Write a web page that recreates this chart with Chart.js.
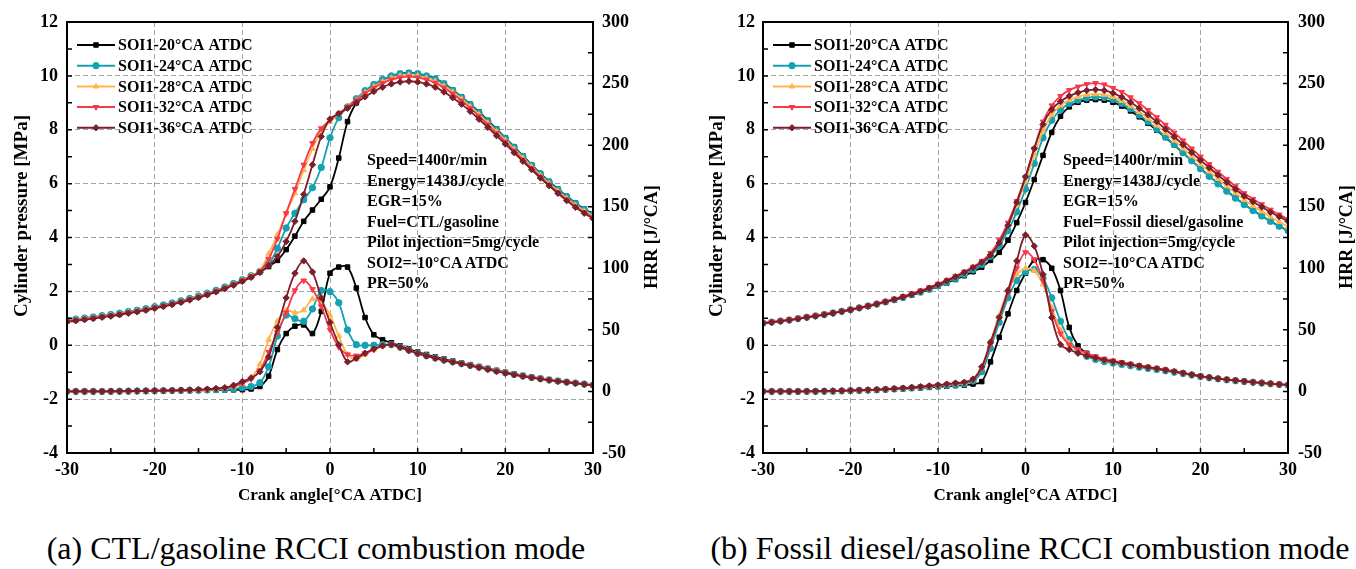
<!DOCTYPE html>
<html>
<head>
<meta charset="utf-8">
<script src="https://cdn.jsdelivr.net/npm/chart.js@4.4.1/dist/chart.umd.min.js"></script>
<style>
  body { margin: 0; background: #fff; width: 1356px; height: 569px; overflow: hidden; position: relative;
         font-family: "Liberation Serif", "Times New Roman", serif; }
  .panel { position: absolute; top: 0; width: 680px; height: 520px; }
  .note { position: absolute; top: 150px; font-weight: bold; font-size: 16px; line-height: 20.5px; white-space: nowrap; color: #000; }
  .caption { position: absolute; top: 530px; font-size: 32px; line-height: 36px; white-space: nowrap; transform: translateX(-50%); color: #000; }
</style>
</head>
<body>
<div class="panel" style="left:0"><canvas id="chartA" width="680" height="520"></canvas></div>
<div class="panel" style="left:690px"><canvas id="chartB" width="680" height="520"></canvas></div>

<div class="note" style="left:367px">Speed=1400r/min<br>Energy=1438J/cycle<br>EGR=15%<br>Fuel=CTL/gasoline<br>Pilot injection=5mg/cycle<br>SOI2=-10°CA ATDC<br>PR=50%</div>
<div class="note" style="left:1063px">Speed=1400r/min<br>Energy=1438J/cycle<br>EGR=15%<br>Fuel=Fossil diesel/gasoline<br>Pilot injection=5mg/cycle<br>SOI2=-10°CA ATDC<br>PR=50%</div>

<div class="caption" style="left:316px">(a) CTL/gasoline RCCI combustion mode</div>
<div class="caption" style="left:1030px">(b) Fossil diesel/gasoline RCCI combustion mode</div>

<script>
// crank angle, °CA ATDC
const crankAngle = [-30, -29, -28, -27, -26, -25, -24, -23, -22, -21,
  -20, -19, -18, -17, -16, -15, -14, -13, -12, -11,
  -10, -9, -8, -7, -6, -5, -4, -3, -2, -1,
  0, 1, 2, 3, 4, 5, 6, 7, 8, 9,
  10, 11, 12, 13, 14, 15, 16, 17, 18, 19,
  20, 21, 22, 23, 24, 25, 26, 27, 28, 29, 30];

const seriesNames = ['SOI1-20°CA ATDC', 'SOI1-24°CA ATDC', 'SOI1-28°CA ATDC', 'SOI1-32°CA ATDC', 'SOI1-36°CA ATDC'];

// (a) CTL/gasoline - cylinder pressure [MPa]
const pressureA20 = [0.90, 0.94, 0.98, 1.02, 1.07, 1.11, 1.16, 1.22, 1.27, 1.33,
  1.40, 1.47, 1.54, 1.62, 1.71, 1.80, 1.90, 2.01, 2.13, 2.26,
  2.40, 2.55, 2.72, 2.92, 3.15, 3.55, 4.05, 4.60, 5.02, 5.42,
  5.88, 6.95, 8.30, 9.00, 9.40, 9.65, 9.85, 9.98, 10.08, 10.12,
  10.08, 10.00, 9.90, 9.72, 9.48, 9.22, 8.95, 8.66, 8.35, 8.03,
  7.70, 7.37, 7.03, 6.70, 6.38, 6.08, 5.80, 5.53, 5.28, 5.06, 4.88];
const pressureA24 = [0.93, 0.97, 1.01, 1.05, 1.10, 1.14, 1.19, 1.25, 1.30, 1.36,
  1.43, 1.50, 1.57, 1.65, 1.74, 1.83, 1.93, 2.04, 2.16, 2.29,
  2.43, 2.58, 2.74, 3.00, 3.60, 4.35, 4.90, 5.40, 5.85, 6.60,
  7.70, 8.45, 8.85, 9.15, 9.45, 9.68, 9.87, 10.00, 10.08, 10.10,
  10.08, 10.00, 9.88, 9.70, 9.46, 9.20, 8.93, 8.63, 8.32, 8.00,
  7.68, 7.35, 7.01, 6.68, 6.36, 6.06, 5.78, 5.51, 5.26, 5.04, 4.86];
const pressureA28 = [0.90, 0.94, 0.98, 1.02, 1.07, 1.11, 1.16, 1.22, 1.27, 1.33,
  1.40, 1.47, 1.54, 1.62, 1.71, 1.80, 1.90, 2.01, 2.13, 2.26,
  2.41, 2.57, 2.76, 3.40, 4.10, 4.90, 5.65, 6.50, 7.30, 7.95,
  8.30, 8.60, 8.85, 9.10, 9.38, 9.60, 9.78, 9.92, 10.00, 10.03,
  10.00, 9.92, 9.80, 9.62, 9.40, 9.14, 8.86, 8.56, 8.25, 7.93,
  7.61, 7.28, 6.95, 6.62, 6.30, 6.00, 5.72, 5.45, 5.20, 4.98, 4.80];
const pressureA32 = [0.89, 0.93, 0.97, 1.01, 1.06, 1.10, 1.15, 1.21, 1.26, 1.32,
  1.39, 1.46, 1.53, 1.61, 1.70, 1.79, 1.89, 2.00, 2.12, 2.25,
  2.40, 2.56, 2.74, 3.20, 3.95, 4.90, 5.80, 6.70, 7.50, 8.05,
  8.35, 8.60, 8.85, 9.10, 9.35, 9.56, 9.73, 9.86, 9.94, 9.97,
  9.94, 9.86, 9.74, 9.56, 9.34, 9.08, 8.80, 8.50, 8.19, 7.87,
  7.55, 7.22, 6.89, 6.57, 6.25, 5.95, 5.67, 5.40, 5.15, 4.93, 4.75];
const pressureA36 = [0.87, 0.91, 0.95, 0.99, 1.04, 1.08, 1.13, 1.19, 1.24, 1.30,
  1.37, 1.44, 1.51, 1.59, 1.68, 1.77, 1.87, 1.98, 2.10, 2.23,
  2.37, 2.52, 2.70, 2.95, 3.30, 3.85, 4.60, 5.60, 6.70, 7.75,
  8.40, 8.60, 8.80, 9.00, 9.22, 9.42, 9.58, 9.70, 9.77, 9.80,
  9.77, 9.70, 9.58, 9.40, 9.19, 8.95, 8.68, 8.39, 8.09, 7.78,
  7.47, 7.15, 6.83, 6.52, 6.21, 5.92, 5.64, 5.37, 5.12, 4.90, 4.70];

// (a) CTL/gasoline - heat release rate [J/°CA]
const hrrA20 = [0.0, 0.0, 0.0, 0.0, 0.0, 0.0, 0.0, 0.1, 0.2, 0.3,
  0.4, 0.5, 0.6, 0.7, 0.8, 0.9, 1.0, 1.1, 1.2, 1.3,
  1.4, 2.0, 4.0, 12.5, 34.0, 47.0, 53.0, 54.0, 47.0, 65.0,
  96.0, 101.0, 101.0, 84.0, 60.0, 46.0, 42.0, 39.5, 37.0, 34.5,
  32.0, 30.0, 28.0, 26.3, 24.7, 23.2, 21.7, 20.2, 18.7, 17.1,
  15.6, 14.2, 12.9, 11.7, 10.6, 9.6, 8.6, 7.7, 6.8, 6.0, 5.2];
const hrrA24 = [0.0, 0.0, 0.0, 0.0, 0.0, 0.0, 0.1, 0.2, 0.3, 0.4,
  0.5, 0.6, 0.7, 0.8, 0.9, 1.0, 1.2, 1.4, 1.7, 2.0,
  3.0, 4.0, 7.0, 20.0, 45.0, 62.0, 59.0, 57.0, 67.0, 82.0,
  81.0, 72.0, 50.0, 38.0, 37.5, 37.5, 38.0, 38.0, 36.0, 33.5,
  31.0, 29.0, 27.2, 25.5, 24.0, 22.7, 21.2, 19.7, 18.2, 16.6,
  15.1, 13.8, 12.6, 11.4, 10.4, 9.4, 8.5, 7.6, 6.8, 6.0, 5.2];
const hrrA28 = [0.0, 0.0, 0.0, 0.0, 0.0, 0.0, 0.1, 0.2, 0.3, 0.4,
  0.5, 0.6, 0.7, 0.8, 1.0, 1.2, 1.5, 2.0, 2.8, 4.0,
  6.5, 11.0, 22.0, 42.0, 57.0, 66.0, 64.0, 66.0, 75.0, 72.0,
  62.0, 45.0, 30.0, 26.0, 30.0, 34.0, 37.0, 38.0, 36.0, 33.5,
  31.0, 29.0, 27.2, 25.5, 24.0, 22.7, 21.2, 19.7, 18.2, 16.6,
  15.1, 13.8, 12.6, 11.4, 10.4, 9.4, 8.5, 7.6, 6.8, 6.0, 5.2];
const hrrA32 = [0.0, 0.0, 0.0, 0.0, 0.0, 0.0, 0.1, 0.2, 0.3, 0.4,
  0.5, 0.6, 0.7, 0.8, 1.0, 1.2, 1.5, 2.0, 2.8, 4.0,
  6.5, 10.0, 17.0, 32.0, 48.0, 64.0, 82.0, 90.0, 83.0, 69.0,
  50.0, 36.0, 30.0, 29.0, 31.0, 34.0, 37.0, 38.0, 36.0, 33.5,
  31.0, 29.0, 27.2, 25.5, 24.0, 22.6, 21.1, 19.6, 18.1, 16.5,
  15.0, 13.7, 12.5, 11.3, 10.3, 9.3, 8.4, 7.5, 6.7, 5.9, 5.1];
const hrrA36 = [0.0, 0.0, 0.0, 0.0, 0.0, 0.1, 0.2, 0.3, 0.4, 0.5,
  0.6, 0.7, 0.8, 1.0, 1.2, 1.5, 1.9, 2.4, 3.0, 5.0,
  8.0, 11.0, 16.0, 28.0, 52.0, 76.0, 96.0, 106.0, 97.0, 76.0,
  56.0, 38.0, 24.0, 27.0, 31.0, 34.5, 37.0, 38.0, 35.8, 33.3,
  30.8, 28.8, 27.0, 25.3, 23.8, 22.4, 20.9, 19.4, 17.9, 16.3,
  14.8, 13.5, 12.3, 11.1, 10.1, 9.1, 8.2, 7.4, 6.6, 5.8, 5.0];

// (b) Fossil diesel/gasoline - cylinder pressure [MPa]
const pressureB20 = [0.82, 0.86, 0.90, 0.94, 0.99, 1.04, 1.09, 1.14, 1.20, 1.26,
  1.32, 1.38, 1.45, 1.52, 1.60, 1.68, 1.77, 1.86, 1.96, 2.07,
  2.19, 2.31, 2.44, 2.58, 2.73, 2.90, 3.15, 3.45, 3.90, 4.55,
  5.30, 6.15, 7.05, 7.90, 8.50, 8.85, 9.02, 9.10, 9.12, 9.10,
  9.02, 8.88, 8.70, 8.48, 8.24, 7.98, 7.71, 7.43, 7.14, 6.85,
  6.56, 6.28, 6.00, 5.73, 5.47, 5.23, 5.01, 4.80, 4.60, 4.42, 4.26];
const pressureB24 = [0.82, 0.86, 0.90, 0.94, 0.99, 1.04, 1.09, 1.14, 1.20, 1.26,
  1.32, 1.39, 1.46, 1.53, 1.61, 1.69, 1.78, 1.88, 1.98, 2.09,
  2.21, 2.34, 2.48, 2.63, 2.80, 3.00, 3.30, 3.70, 4.25, 4.95,
  5.80, 6.75, 7.70, 8.35, 8.75, 8.97, 9.10, 9.18, 9.22, 9.20,
  9.12, 8.97, 8.78, 8.55, 8.30, 8.02, 7.74, 7.45, 7.15, 6.85,
  6.55, 6.27, 5.99, 5.72, 5.46, 5.22, 5.00, 4.80, 4.60, 4.42, 4.26];
const pressureB28 = [0.82, 0.86, 0.90, 0.94, 0.99, 1.04, 1.09, 1.14, 1.20, 1.26,
  1.32, 1.39, 1.46, 1.54, 1.62, 1.71, 1.80, 1.90, 2.01, 2.13,
  2.26, 2.40, 2.55, 2.71, 2.89, 3.10, 3.40, 3.85, 4.45, 5.20,
  6.10, 7.05, 7.95, 8.55, 8.90, 9.10, 9.22, 9.30, 9.32, 9.30,
  9.22, 9.07, 8.88, 8.66, 8.42, 8.16, 7.89, 7.60, 7.31, 7.02,
  6.73, 6.45, 6.18, 5.91, 5.65, 5.40, 5.18, 4.97, 4.77, 4.58, 4.40];
const pressureB32 = [0.83, 0.87, 0.91, 0.95, 1.00, 1.05, 1.10, 1.15, 1.21, 1.27,
  1.33, 1.40, 1.47, 1.55, 1.63, 1.72, 1.82, 1.92, 2.03, 2.15,
  2.28, 2.42, 2.57, 2.73, 2.91, 3.12, 3.42, 3.90, 4.55, 5.35,
  6.25, 7.30, 8.30, 8.90, 9.25, 9.47, 9.60, 9.69, 9.73, 9.68,
  9.55, 9.40, 9.20, 8.98, 8.73, 8.46, 8.18, 7.89, 7.60, 7.30,
  7.00, 6.72, 6.44, 6.17, 5.90, 5.64, 5.43, 5.23, 5.03, 4.85, 4.68];
const pressureB36 = [0.81, 0.85, 0.89, 0.93, 0.98, 1.03, 1.08, 1.13, 1.19, 1.25,
  1.31, 1.38, 1.45, 1.53, 1.61, 1.70, 1.79, 1.89, 2.00, 2.12,
  2.25, 2.39, 2.54, 2.70, 2.88, 3.08, 3.35, 3.80, 4.45, 5.30,
  6.25, 7.30, 8.20, 8.75, 9.05, 9.25, 9.38, 9.46, 9.49, 9.46,
  9.36, 9.21, 9.02, 8.80, 8.56, 8.30, 8.02, 7.74, 7.45, 7.16,
  6.87, 6.59, 6.32, 6.05, 5.79, 5.54, 5.33, 5.13, 4.94, 4.77, 4.60];

// (b) Fossil diesel/gasoline - heat release rate [J/°CA]
const hrrB20 = [0.0, 0.0, 0.0, 0.0, 0.0, 0.0, 0.0, 0.1, 0.2, 0.4,
  0.6, 0.8, 1.0, 1.2, 1.5, 1.8, 2.1, 2.5, 2.9, 3.3,
  3.8, 4.2, 4.7, 5.2, 6.0, 8.0, 24.0, 44.0, 63.0, 82.0,
  96.0, 106.5, 107.0, 100.0, 82.0, 52.0, 37.0, 31.0, 27.5, 25.5,
  24.2, 23.0, 21.8, 20.6, 19.5, 18.5, 17.3, 16.1, 14.9, 13.6,
  12.3, 11.3, 10.4, 9.6, 8.9, 8.2, 7.5, 6.9, 6.3, 5.7, 5.2];
const hrrB24 = [0.0, 0.0, 0.0, 0.0, 0.0, 0.0, 0.0, 0.1, 0.2, 0.4,
  0.6, 0.8, 1.0, 1.3, 1.6, 2.0, 2.4, 2.9, 3.4, 3.9,
  4.5, 5.0, 5.5, 6.2, 8.5, 16.0, 35.0, 56.0, 76.0, 90.0,
  97.0, 99.0, 92.0, 76.0, 57.0, 42.0, 33.0, 28.5, 26.0, 24.2,
  23.0, 21.9, 20.8, 19.7, 18.7, 17.8, 16.7, 15.6, 14.5, 13.3,
  12.1, 11.1, 10.2, 9.4, 8.7, 8.0, 7.4, 6.8, 6.2, 5.6, 5.1];
const hrrB28 = [0.0, 0.0, 0.0, 0.0, 0.0, 0.0, 0.1, 0.2, 0.3, 0.5,
  0.7, 0.9, 1.1, 1.4, 1.7, 2.1, 2.6, 3.1, 3.7, 4.3,
  5.0, 5.8, 6.5, 7.2, 10.0, 20.0, 40.0, 62.0, 82.0, 95.0,
  100.0, 98.0, 87.0, 68.0, 50.0, 39.0, 33.0, 29.5, 27.0, 25.3,
  24.0, 22.8, 21.7, 20.6, 19.5, 18.5, 17.3, 16.1, 14.9, 13.6,
  12.3, 11.3, 10.4, 9.6, 8.9, 8.2, 7.5, 6.9, 6.3, 5.7, 5.2];
const hrrB32 = [0.0, 0.0, 0.0, 0.0, 0.0, 0.0, 0.1, 0.2, 0.3, 0.5,
  0.7, 0.9, 1.1, 1.4, 1.7, 2.1, 2.6, 3.1, 3.7, 4.3,
  5.0, 5.8, 6.5, 7.2, 9.5, 19.0, 38.0, 60.0, 80.0, 100.0,
  113.0, 107.0, 90.0, 65.0, 47.0, 38.0, 34.0, 31.0, 28.5, 26.5,
  25.0, 23.6, 22.3, 21.0, 19.8, 18.7, 17.5, 16.3, 15.0, 13.7,
  12.4, 11.4, 10.5, 9.7, 8.9, 8.2, 7.5, 6.9, 6.3, 5.7, 5.2];
const hrrB36 = [0.0, 0.0, 0.0, 0.0, 0.0, 0.1, 0.2, 0.3, 0.4, 0.6,
  0.8, 1.0, 1.2, 1.5, 1.8, 2.2, 2.7, 3.2, 3.8, 4.5,
  5.2, 6.0, 6.8, 7.5, 10.0, 20.0, 40.0, 60.0, 82.0, 106.0,
  127.0, 118.0, 95.0, 60.0, 38.0, 34.0, 31.0, 29.0, 27.2, 25.5,
  24.2, 23.0, 21.8, 20.6, 19.5, 18.5, 17.3, 16.1, 14.9, 13.6,
  12.3, 11.3, 10.4, 9.6, 8.9, 8.2, 7.5, 6.9, 6.3, 5.7, 5.2];

// styles per SOI1 case
const seriesColors = ['#000000', '#12a2b2', '#ffb54f', '#f7394b', '#7a1f2b'];
const seriesMarkers = ['rect', 'circle', 'triangle', 'triangle', 'rectRot'];
const markerTurn = [0, 0, 0, 180, 0];

Chart.defaults.font.family = '"Liberation Serif", "Times New Roman", serif';
Chart.defaults.font.weight = 'bold';
Chart.defaults.color = '#000';

function toPoints(values) {
  return crankAngle.map((x, i) => ({ x: x, y: values[i] }));
}

function buildDatasets(pressures, hrrs) {
  const sets = [];
  const add = (vals, k, axis, legend) => sets.push({
    label: seriesNames[k],
    data: toPoints(vals),
    yAxisID: axis,
    inLegend: legend,
    borderColor: seriesColors[k],
    backgroundColor: seriesColors[k],
    pointBackgroundColor: seriesColors[k],
    pointBorderColor: seriesColors[k],
    pointStyle: seriesMarkers[k],
    pointRotation: markerTurn[k],
    pointRadius: 3.2,
    pointBorderWidth: 1,
    borderWidth: 1.8,
    tension: 0.35,
    order: 5 - k
  });
  pressures.forEach((v, k) => add(v, k, 'y', true));
  hrrs.forEach((v, k) => add(v, k, 'y1', false));
  return sets;
}

// legend with line + marker inside the plot
const insideLegend = {
  id: 'insideLegend',
  afterDraw(chart, args, opts) {
    const ctx = chart.ctx;
    ctx.save();
    let row = 0;
    chart.data.datasets.forEach(ds => {
      if (!ds.inLegend) return;
      const y = opts.top + opts.step * row;
      row++;
      ctx.strokeStyle = ds.borderColor;
      ctx.fillStyle = ds.borderColor;
      ctx.lineWidth = 2;
      ctx.beginPath();
      ctx.moveTo(opts.left, y);
      ctx.lineTo(opts.left + opts.len, y);
      ctx.stroke();
      ctx.lineWidth = 1;
      Chart.helpers.drawPoint(ctx, { pointStyle: ds.pointStyle, rotation: ds.pointRotation, radius: 3.2, borderWidth: 1 },
        opts.left + opts.len / 2, y);
      ctx.fillStyle = '#000';
      ctx.font = 'bold 16px "Liberation Serif"';
      ctx.textBaseline = 'middle';
      ctx.textAlign = 'left';
      ctx.fillText(ds.label, opts.left + opts.len + 3, y + 1);
    });
    ctx.restore();
  }
};

// both vertical axis titles read bottom-to-top
const sideTitles = {
  id: 'sideTitles',
  afterDraw(chart, args, opts) {
    const ctx = chart.ctx;
    ctx.save();
    ctx.fillStyle = '#000';
    ctx.textAlign = 'center';
    ctx.textBaseline = 'middle';
    opts.items.forEach(t => {
      ctx.save();
      ctx.translate(t.x, t.y);
      ctx.rotate(-Math.PI / 2);
      ctx.font = 'bold ' + t.size + 'px "Liberation Serif"';
      ctx.fillText(t.text, 0, 0);
      ctx.restore();
    });
    ctx.restore();
  }
};

// box frame and inward major/minor ticks
const frameTicks = {
  id: 'frameTicks',
  afterDraw(chart) {
    const { ctx, chartArea: a, scales } = chart;
    const len = 5;
    ctx.save();
    ctx.strokeStyle = '#000';
    ctx.lineWidth = 1.5;
    ctx.beginPath();
    for (let v = scales.x.min; v <= scales.x.max; v += 5) {
      const px = scales.x.getPixelForValue(v);
      ctx.moveTo(px, a.bottom); ctx.lineTo(px, a.bottom - len);
    }
    for (let v = scales.y.min; v <= scales.y.max; v += 1) {
      const py = scales.y.getPixelForValue(v);
      ctx.moveTo(a.left, py); ctx.lineTo(a.left + len, py);
    }
    for (let v = scales.y1.min; v <= scales.y1.max; v += 25) {
      const py = scales.y1.getPixelForValue(v);
      ctx.moveTo(a.right, py); ctx.lineTo(a.right - len, py);
    }
    ctx.stroke();
    ctx.lineWidth = 2;
    ctx.strokeRect(a.left, a.top, a.right - a.left, a.bottom - a.top);
    ctx.restore();
  }
};

function makePanel(id, pressures, hrrs, box) {
  const gridStyle = { color: '#a3a3a3', lineWidth: 1, drawTicks: false };
  new Chart(document.getElementById(id), {
    type: 'line',
    data: { datasets: buildDatasets(pressures, hrrs) },
    options: {
      responsive: false,
      animation: false,
      events: [],
      layout: { padding: { top: 22, left: 0, right: 0, bottom: 0 } },
      plugins: {
        legend: { display: false },
        tooltip: { enabled: false },
        insideLegend: box.legend,
        sideTitles: { items: [
          { text: 'Cylinder pressure [MPa]', x: box.leftTitleX, y: 216, size: 19 },
          { text: 'HRR [J/°CA]', x: box.rightTitleX, y: 237, size: 18 }
        ] }
      },
      scales: {
        x: {
          type: 'linear', min: -30, max: 30,
          ticks: { stepSize: 10, padding: 7, font: { size: 18 } },
          grid: gridStyle,
          border: { display: false, dash: [5, 3] },
          title: { display: true, text: 'Crank angle[°CA ATDC]', font: { size: 17 }, padding: { top: 0, bottom: 14 } },
          afterFit: s => { s.height = 67; }
        },
        y: {
          position: 'left', min: -4, max: 12,
          ticks: { stepSize: 2, padding: box.leftPad, font: { size: 18 } },
          grid: gridStyle,
          border: { display: false, dash: [5, 3] },
          afterFit: s => { s.width = box.left; }
        },
        y1: {
          position: 'right', min: -50, max: 300,
          ticks: { stepSize: 50, padding: box.rightPad, font: { size: 18 } },
          grid: { display: false, drawTicks: false },
          border: { display: false },
          afterFit: s => { s.width = box.right; }
        }
      }
    },
    plugins: [insideLegend, sideTitles, frameTicks]
  });
}

makePanel('chartA',
  [pressureA20, pressureA24, pressureA28, pressureA32, pressureA36],
  [hrrA20, hrrA24, hrrA28, hrrA32, hrrA36],
  { left: 67, right: 87, leftPad: 9, rightPad: 9, leftTitleX: 22, rightTitleX: 652,
    legend: { left: 77, top: 45, step: 20.7, len: 38 } });

makePanel('chartB',
  [pressureB20, pressureB24, pressureB28, pressureB32, pressureB36],
  [hrrB20, hrrB24, hrrB28, hrrB32, hrrB36],
  { left: 73, right: 82, leftPad: 8, rightPad: 10, leftTitleX: 27, rightTitleX: 657,
    legend: { left: 83, top: 45, step: 20.7, len: 38 } });
</script>
</body>
</html>
